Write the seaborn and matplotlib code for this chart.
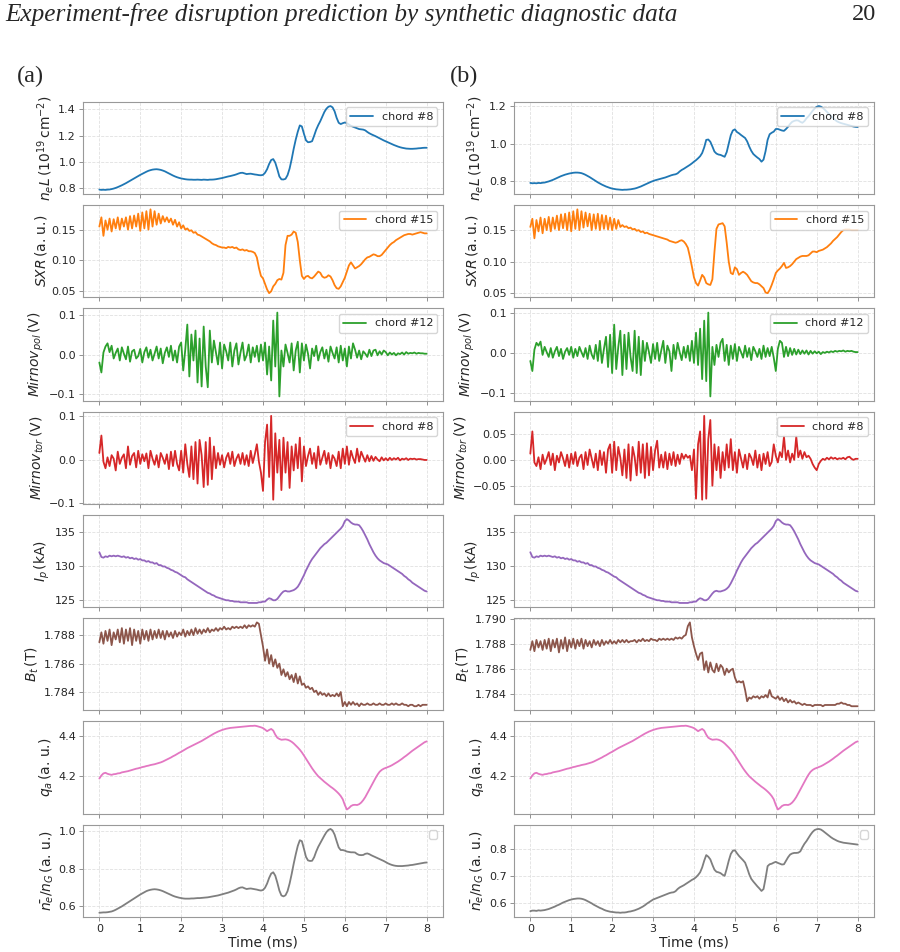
import numpy as np
import matplotlib
matplotlib.use("Agg")
import matplotlib.pyplot as plt
import seaborn as sns

# time base, 0.05 ms sampling
time_ms = np.linspace(0, 8, 161)

# ---- (a) ----
nel_a = [0.790,0.788,0.789,0.788,0.790,0.791,0.794,0.798,0.803,0.809,0.816,0.823,0.831,0.839,0.848,0.857,0.866,0.875,0.884,0.893,
         0.902,0.910,0.918,0.926,0.933,0.938,0.942,0.944,0.945,0.943,0.940,0.935,0.929,0.921,0.913,0.905,0.897,0.890,0.884,0.879,
         0.875,0.872,0.869,0.867,0.866,0.866,0.865,0.865,0.866,0.865,0.864,0.866,0.865,0.864,0.866,0.866,0.867,0.869,0.872,0.875,
         0.878,0.882,0.886,0.890,0.893,0.897,0.901,0.906,0.912,0.917,0.918,0.913,0.908,0.910,0.911,0.908,0.905,0.903,0.900,0.899,
         0.902,0.918,0.945,0.985,1.015,1.022,0.995,0.945,0.890,0.868,0.867,0.872,0.900,0.950,1.020,1.100,1.170,1.230,1.278,1.270,
         1.215,1.165,1.150,1.152,1.158,1.200,1.245,1.280,1.310,1.345,1.380,1.405,1.420,1.425,1.415,1.385,1.335,1.298,1.288,1.295,
         1.300,1.295,1.285,1.275,1.268,1.262,1.256,1.250,1.248,1.246,1.240,1.228,1.218,1.210,1.203,1.196,1.188,1.180,1.172,1.164,
         1.157,1.150,1.143,1.136,1.129,1.123,1.117,1.112,1.108,1.105,1.102,1.101,1.100,1.100,1.101,1.102,1.104,1.105,1.107,1.108,
         1.108]
sxr_a = [0.155,0.170,0.140,0.165,0.150,0.168,0.147,0.167,0.152,0.170,0.150,0.168,0.155,0.170,0.150,0.172,0.152,0.173,0.155,0.176,
         0.148,0.178,0.152,0.180,0.150,0.183,0.155,0.180,0.158,0.176,0.160,0.172,0.163,0.170,0.162,0.168,0.158,0.166,0.155,0.162,
         0.152,0.157,0.150,0.152,0.148,0.149,0.145,0.146,0.142,0.141,0.139,0.137,0.135,0.133,0.131,0.128,0.126,0.125,0.123,0.122,
         0.121,0.121,0.120,0.122,0.121,0.122,0.120,0.121,0.118,0.117,0.118,0.116,0.117,0.115,0.115,0.114,0.112,0.105,0.088,0.075,
         0.071,0.062,0.053,0.047,0.050,0.058,0.062,0.068,0.070,0.069,0.080,0.125,0.140,0.140,0.142,0.147,0.145,0.130,0.100,0.075,
         0.070,0.074,0.075,0.072,0.071,0.074,0.078,0.082,0.080,0.074,0.072,0.073,0.076,0.074,0.068,0.060,0.055,0.054,0.058,0.065,
         0.072,0.082,0.092,0.097,0.092,0.087,0.089,0.091,0.094,0.098,0.102,0.105,0.106,0.108,0.110,0.109,0.107,0.107,0.109,0.113,
         0.117,0.121,0.125,0.128,0.130,0.133,0.135,0.137,0.139,0.141,0.142,0.143,0.143,0.142,0.143,0.144,0.145,0.146,0.145,0.144,
         0.144]
mirpol_a = [-0.020,-0.045,0.005,0.020,0.028,0.006,0.022,-0.010,0.004,0.015,-0.015,0.018,0.002,-0.012,0.020,-0.018,0.008,0.012,-0.010,-0.004,
            0.014,-0.020,0.006,0.018,-0.008,0.012,-0.015,0.002,0.020,-0.010,0.015,-0.022,0.004,0.018,-0.006,0.022,-0.015,0.010,-0.020,0.020,
            0.030,-0.040,0.012,0.075,-0.055,0.050,-0.015,0.060,-0.070,0.040,-0.080,0.070,-0.030,-0.082,0.060,-0.020,0.035,0.005,-0.025,0.030,
            -0.035,0.025,0.008,-0.015,0.030,-0.030,0.010,0.028,-0.025,0.005,0.030,-0.015,-0.002,0.025,-0.020,0.018,-0.006,0.022,-0.018,0.025,
            -0.015,0.030,-0.050,0.020,-0.065,0.085,-0.030,0.105,-0.105,0.010,-0.030,0.025,0.004,-0.020,0.028,-0.040,0.010,0.032,-0.045,0.028,
            -0.015,0.025,0.002,-0.035,0.015,-0.004,0.022,-0.015,0.006,0.018,-0.010,0.012,-0.018,0.020,0.004,-0.010,0.018,-0.020,0.022,-0.015,
            0.015,-0.030,0.020,-0.010,0.028,0.012,-0.008,0.010,-0.012,0.008,0.002,-0.006,0.012,-0.004,0.010,0.012,-0.002,0.008,0.000,0.010,
            0.006,-0.002,0.005,0.000,0.004,-0.002,0.003,0.001,0.005,0.000,0.006,0.002,0.004,0.003,0.005,0.002,0.004,0.003,0.003,0.002,
            0.002]
mirtor_a = [0.015,0.055,-0.005,-0.020,0.005,-0.015,0.010,0.002,-0.025,0.018,-0.010,0.004,0.012,-0.020,0.030,-0.012,0.008,0.015,-0.018,0.020,
            -0.010,0.012,-0.004,0.014,-0.020,0.020,0.002,-0.012,0.010,-0.018,0.015,0.004,-0.010,0.012,-0.022,0.018,-0.015,0.020,-0.010,-0.025,
            0.020,-0.030,0.035,-0.010,-0.040,0.030,-0.045,0.040,-0.055,0.045,0.010,-0.063,0.040,-0.058,0.050,-0.045,0.030,-0.020,0.015,-0.012,
            0.010,-0.018,0.004,0.015,-0.010,0.018,-0.015,0.002,0.012,-0.010,0.015,-0.012,0.010,-0.015,0.020,-0.008,0.012,0.035,-0.005,-0.030,
            -0.072,0.040,0.080,-0.040,0.100,-0.092,0.060,-0.030,0.045,-0.070,0.050,-0.030,0.040,-0.065,0.030,-0.025,0.035,-0.020,0.050,-0.050,
            0.030,-0.015,0.008,0.025,-0.010,0.015,-0.020,0.030,-0.012,0.004,0.020,-0.010,0.015,-0.020,0.010,0.002,-0.015,0.018,-0.020,0.025,
            -0.010,0.030,-0.012,0.020,0.004,-0.008,0.025,-0.005,0.018,0.006,-0.005,0.010,-0.004,0.008,-0.003,0.006,0.000,-0.004,0.005,-0.002,
            0.003,-0.002,0.004,-0.001,0.003,0.000,0.004,-0.002,0.002,0.000,0.003,-0.001,0.002,0.001,0.002,0.000,0.001,0.001,0.000,-0.001,
            -0.001]
bt_a = [1.7875,1.7882,1.7874,1.7883,1.7876,1.7884,1.7873,1.7882,1.7877,1.7884,1.7875,1.7885,1.7874,1.7884,1.7876,1.7885,1.7873,1.7884,1.7876,1.7883,
        1.7874,1.7884,1.7877,1.7883,1.7876,1.7884,1.7877,1.7883,1.7878,1.7884,1.7878,1.7883,1.7877,1.7883,1.7879,1.7882,1.7878,1.7883,1.7879,1.7882,
        1.7880,1.7884,1.7879,1.7883,1.7880,1.7884,1.7880,1.7885,1.7881,1.7884,1.7881,1.7884,1.7882,1.7885,1.7882,1.7884,1.7883,1.7885,1.7883,1.7885,
        1.7884,1.7886,1.7884,1.7885,1.7884,1.7886,1.7885,1.7886,1.7885,1.7886,1.7885,1.7887,1.7885,1.7887,1.7886,1.7887,1.7886,1.7889,1.7888,1.7880,
        1.7872,1.7862,1.7870,1.7860,1.7866,1.7858,1.7863,1.7857,1.7860,1.7852,1.7856,1.7851,1.7854,1.7849,1.7852,1.7847,1.7853,1.7846,1.7851,1.7845,
        1.7846,1.7843,1.7844,1.7842,1.7843,1.7840,1.7841,1.7838,1.7840,1.7838,1.7839,1.7837,1.7839,1.7837,1.7838,1.7837,1.7839,1.7837,1.7840,1.7830,
        1.7833,1.7830,1.7833,1.7831,1.7833,1.7831,1.7832,1.7830,1.7832,1.7831,1.7831,1.7832,1.7831,1.7831,1.7832,1.7831,1.7831,1.7832,1.7831,1.7831,
        1.7832,1.7831,1.7831,1.7832,1.7831,1.7832,1.7831,1.7831,1.7832,1.7831,1.7831,1.7830,1.7831,1.7831,1.7830,1.7830,1.7831,1.7830,1.7831,1.7831,
        1.7831]
ngw_a = [0.565,0.566,0.567,0.567,0.568,0.570,0.572,0.576,0.581,0.587,0.593,0.599,0.606,0.613,0.620,0.627,0.634,0.641,0.648,0.655,
         0.662,0.668,0.674,0.680,0.684,0.687,0.689,0.690,0.689,0.687,0.684,0.680,0.675,0.670,0.665,0.660,0.655,0.651,0.648,0.645,
         0.643,0.641,0.640,0.640,0.640,0.641,0.641,0.642,0.643,0.643,0.644,0.645,0.646,0.647,0.649,0.651,0.653,0.655,0.657,0.660,
         0.663,0.666,0.669,0.672,0.676,0.680,0.684,0.689,0.695,0.699,0.700,0.695,0.691,0.693,0.694,0.692,0.690,0.688,0.685,0.683,
         0.686,0.698,0.720,0.750,0.773,0.780,0.762,0.725,0.683,0.657,0.652,0.658,0.680,0.720,0.770,0.825,0.875,0.920,0.950,0.945,
         0.905,0.862,0.843,0.840,0.841,0.860,0.890,0.915,0.935,0.955,0.975,0.993,1.005,1.010,1.002,0.980,0.945,0.912,0.898,0.898,
         0.895,0.890,0.888,0.886,0.886,0.885,0.877,0.872,0.871,0.872,0.878,0.880,0.876,0.870,0.865,0.860,0.855,0.850,0.845,0.840,
         0.834,0.828,0.823,0.819,0.816,0.814,0.813,0.813,0.813,0.814,0.815,0.816,0.818,0.819,0.821,0.823,0.825,0.827,0.829,0.831,
         0.832]

# ---- shared by (a) and (b) ----
ip_ka = [132.0,131.3,131.2,131.4,131.3,131.5,131.4,131.5,131.4,131.5,131.4,131.3,131.4,131.2,131.3,131.1,131.2,131.0,131.1,130.9,
         131.0,130.8,130.8,130.6,130.7,130.5,130.5,130.3,130.4,130.1,130.1,129.9,129.9,129.7,129.6,129.4,129.3,129.1,129.0,128.8,
         128.6,128.4,128.3,128.0,127.8,127.6,127.4,127.2,127.0,126.8,126.6,126.4,126.2,126.0,125.9,125.7,125.6,125.4,125.3,125.2,
         125.1,125.0,124.9,124.9,124.8,124.8,124.7,124.7,124.7,124.6,124.6,124.6,124.6,124.5,124.5,124.5,124.5,124.5,124.6,124.6,
         124.7,124.7,125.0,125.2,125.1,124.9,124.9,125.1,125.5,125.9,126.2,126.3,126.2,126.2,126.3,126.4,126.6,126.9,127.4,128.0,
         128.6,129.3,129.9,130.5,131.0,131.4,131.8,132.2,132.6,132.9,133.2,133.4,133.7,134.0,134.3,134.6,134.9,135.2,135.5,135.9,
         136.6,136.9,136.7,136.4,136.2,136.1,136.1,136.0,135.6,135.1,134.5,133.9,133.2,132.6,132.0,131.5,131.1,130.8,130.6,130.4,
         130.3,130.2,130.0,129.8,129.6,129.4,129.2,129.0,128.8,128.5,128.3,128.0,127.8,127.5,127.3,127.1,126.9,126.7,126.5,126.3,
         126.2]
qa = [4.190,4.205,4.215,4.218,4.213,4.210,4.208,4.211,4.212,4.215,4.216,4.220,4.222,4.224,4.226,4.229,4.232,4.235,4.238,4.240,
      4.243,4.246,4.248,4.251,4.253,4.256,4.258,4.260,4.263,4.266,4.269,4.273,4.278,4.283,4.288,4.293,4.299,4.304,4.310,4.316,
      4.321,4.327,4.333,4.339,4.344,4.349,4.354,4.359,4.364,4.369,4.374,4.380,4.386,4.392,4.398,4.404,4.410,4.415,4.420,4.424,
      4.428,4.431,4.434,4.436,4.438,4.439,4.440,4.441,4.442,4.443,4.444,4.445,4.446,4.447,4.448,4.448,4.449,4.447,4.444,4.441,
      4.437,4.430,4.422,4.428,4.433,4.425,4.405,4.390,4.384,4.380,4.381,4.382,4.380,4.376,4.370,4.362,4.352,4.342,4.331,4.318,
      4.303,4.287,4.270,4.255,4.240,4.226,4.213,4.201,4.192,4.183,4.174,4.166,4.158,4.150,4.143,4.135,4.126,4.116,4.104,4.088,
      4.060,4.038,4.045,4.055,4.060,4.061,4.060,4.064,4.072,4.084,4.099,4.117,4.136,4.155,4.174,4.192,4.209,4.223,4.232,4.238,
      4.242,4.246,4.250,4.255,4.261,4.267,4.273,4.280,4.287,4.295,4.302,4.310,4.318,4.326,4.333,4.340,4.347,4.354,4.361,4.368,
      4.372]

# ---- (b) ----
nel_b = [0.791,0.789,0.790,0.789,0.791,0.790,0.792,0.793,0.796,0.799,0.803,0.807,0.812,0.817,0.822,0.827,0.831,0.835,0.838,0.841,
         0.843,0.845,0.846,0.846,0.845,0.843,0.839,0.834,0.828,0.822,0.815,0.808,0.801,0.794,0.788,0.782,0.777,0.772,0.768,0.764,
         0.761,0.759,0.757,0.756,0.755,0.754,0.755,0.755,0.756,0.757,0.759,0.761,0.764,0.768,0.772,0.777,0.782,0.787,0.792,0.797,
         0.801,0.805,0.808,0.811,0.814,0.817,0.820,0.824,0.828,0.832,0.835,0.837,0.842,0.852,0.860,0.866,0.873,0.880,0.887,0.895,
         0.904,0.912,0.922,0.933,0.950,0.980,1.020,1.022,1.010,0.985,0.958,0.947,0.942,0.940,0.935,0.930,0.955,1.000,1.045,1.070,
         1.076,1.062,1.055,1.046,1.038,1.030,1.012,0.985,0.962,0.945,0.935,0.926,0.918,0.904,0.915,0.960,1.020,1.050,1.058,1.064,
         1.078,1.078,1.074,1.070,1.068,1.078,1.090,1.105,1.116,1.121,1.124,1.123,1.116,1.111,1.120,1.135,1.146,1.160,1.175,1.187,
         1.196,1.200,1.197,1.190,1.180,1.169,1.158,1.147,1.136,1.126,1.118,1.113,1.109,1.106,1.103,1.100,1.097,1.094,1.091,1.089,
         1.088]
sxr_b = [0.155,0.168,0.137,0.166,0.148,0.170,0.145,0.168,0.150,0.171,0.148,0.170,0.152,0.173,0.150,0.175,0.153,0.176,0.150,0.178,
         0.148,0.180,0.152,0.183,0.150,0.180,0.154,0.178,0.156,0.176,0.150,0.175,0.152,0.176,0.150,0.174,0.152,0.173,0.151,0.170,
         0.150,0.168,0.152,0.166,0.155,0.158,0.155,0.156,0.153,0.154,0.151,0.152,0.149,0.150,0.147,0.148,0.145,0.146,0.144,0.143,
         0.142,0.141,0.140,0.139,0.138,0.137,0.136,0.135,0.133,0.132,0.131,0.130,0.131,0.133,0.134,0.132,0.128,0.122,0.108,0.092,
         0.075,0.066,0.062,0.070,0.079,0.075,0.066,0.064,0.063,0.072,0.115,0.152,0.159,0.160,0.161,0.156,0.130,0.100,0.082,0.080,
         0.091,0.088,0.079,0.082,0.084,0.082,0.079,0.074,0.069,0.067,0.066,0.066,0.064,0.061,0.058,0.051,0.050,0.055,0.063,0.072,
         0.082,0.086,0.089,0.093,0.098,0.090,0.091,0.093,0.096,0.100,0.104,0.106,0.108,0.109,0.109,0.109,0.110,0.113,0.116,0.116,
         0.115,0.117,0.118,0.119,0.121,0.123,0.126,0.129,0.133,0.136,0.139,0.143,0.147,0.150,0.151,0.151,0.151,0.150,0.150,0.150,
         0.150]
mirpol_b = [-0.020,-0.045,0.008,0.025,0.018,0.028,-0.005,0.015,0.002,-0.010,0.012,-0.012,0.004,0.015,-0.008,0.010,-0.015,0.003,0.012,-0.005,
            0.015,-0.012,0.010,-0.008,0.015,0.002,-0.010,0.012,-0.015,0.018,-0.004,-0.015,0.020,-0.020,0.030,-0.025,0.010,0.040,-0.035,0.045,
            -0.050,0.070,-0.040,0.015,0.055,-0.055,0.045,-0.040,0.050,-0.010,-0.045,0.055,-0.050,0.040,-0.055,0.030,-0.020,0.025,0.002,-0.025,
            0.022,-0.015,0.025,-0.020,0.006,0.030,-0.025,0.018,0.004,-0.045,0.020,-0.015,0.025,0.002,-0.018,0.015,-0.012,0.018,-0.020,0.030,
            -0.025,0.050,-0.030,0.060,-0.065,0.080,-0.070,0.100,-0.108,0.015,-0.030,0.020,-0.010,0.025,0.035,-0.020,0.020,-0.030,0.018,-0.015,
            0.022,-0.020,0.015,0.002,-0.012,0.018,-0.010,0.012,-0.018,0.015,0.004,-0.010,0.010,-0.015,0.018,-0.010,0.012,-0.008,0.015,-0.012,
            -0.045,0.010,0.030,0.025,-0.010,0.015,-0.008,0.012,-0.005,0.010,-0.004,0.008,-0.003,0.006,-0.002,0.006,-0.004,0.005,-0.002,0.004,
            -0.001,0.003,-0.003,0.002,0.000,0.003,0.001,0.004,0.002,0.005,0.003,0.005,0.004,0.006,0.003,0.005,0.004,0.005,0.003,0.002,
            0.002]
mirtor_b = [0.012,0.055,-0.005,-0.012,0.005,-0.018,0.010,-0.008,0.002,0.015,-0.010,0.012,-0.020,0.008,-0.005,0.015,0.003,-0.012,0.010,-0.015,
            0.012,-0.008,0.015,-0.012,0.004,0.010,-0.018,0.015,-0.010,0.020,0.002,-0.015,0.012,-0.020,0.018,-0.010,0.015,-0.025,0.020,0.030,
            -0.025,0.035,-0.020,0.025,0.004,-0.030,0.020,-0.035,0.030,-0.040,0.025,0.005,-0.030,0.035,-0.025,0.030,-0.035,0.032,-0.030,0.025,
            -0.020,0.018,0.037,-0.015,0.010,-0.015,0.015,-0.018,0.012,-0.010,0.015,-0.012,0.010,-0.008,0.012,0.002,0.010,0.004,0.008,-0.020,
            0.020,-0.075,0.030,0.055,-0.077,0.085,-0.075,0.040,0.077,-0.050,0.030,-0.020,0.025,-0.035,0.015,-0.020,0.030,-0.015,0.040,-0.020,
            0.015,-0.025,0.020,0.002,-0.015,0.010,-0.018,0.012,0.004,-0.010,0.018,-0.015,0.010,-0.020,0.012,-0.008,0.015,-0.012,-0.004,0.030,
            0.008,-0.005,0.015,0.005,0.045,0.000,0.018,-0.005,0.012,0.000,0.045,0.005,0.018,0.002,0.015,0.005,0.008,0.002,-0.008,-0.015,
            -0.020,-0.008,-0.002,0.002,0.000,0.004,0.001,0.005,0.002,0.004,0.001,0.003,0.002,0.004,0.001,0.005,0.006,0.002,0.000,0.002,
            0.002]
bt_b = [1.7875,1.7882,1.7874,1.7883,1.7877,1.7882,1.7875,1.7883,1.7876,1.7884,1.7874,1.7883,1.7877,1.7884,1.7873,1.7883,1.7876,1.7885,1.7874,1.7883,
        1.7877,1.7884,1.7876,1.7883,1.7878,1.7884,1.7876,1.7883,1.7878,1.7882,1.7877,1.7883,1.7879,1.7882,1.7878,1.7883,1.7879,1.7882,1.7880,1.7883,
        1.7880,1.7882,1.7880,1.7883,1.7881,1.7883,1.7881,1.7883,1.7881,1.7882,1.7882,1.7883,1.7881,1.7883,1.7882,1.7884,1.7882,1.7883,1.7882,1.7884,
        1.7883,1.7883,1.7882,1.7884,1.7883,1.7884,1.7883,1.7884,1.7883,1.7884,1.7883,1.7885,1.7884,1.7885,1.7884,1.7886,1.7887,1.7894,1.7897,1.7885,
        1.7878,1.7872,1.7867,1.7872,1.7873,1.7859,1.7866,1.7857,1.7865,1.7859,1.7857,1.7864,1.7858,1.7863,1.7861,1.7855,1.7860,1.7857,1.7859,1.7860,
        1.7853,1.7849,1.7850,1.7849,1.7850,1.7843,1.7834,1.7837,1.7836,1.7838,1.7837,1.7838,1.7836,1.7838,1.7837,1.7839,1.7837,1.7843,1.7838,1.7837,
        1.7836,1.7838,1.7835,1.7837,1.7834,1.7836,1.7833,1.7835,1.7833,1.7834,1.7832,1.7833,1.7832,1.7831,1.7832,1.7831,1.7831,1.7831,1.7830,1.7831,
        1.7831,1.7831,1.7831,1.7830,1.7831,1.7831,1.7831,1.7831,1.7831,1.7831,1.7832,1.7832,1.7833,1.7832,1.7832,1.7831,1.7831,1.7830,1.7830,1.7830,
        1.7830]
ngw_b = [0.568,0.570,0.570,0.569,0.571,0.570,0.571,0.572,0.574,0.576,0.579,0.582,0.585,0.589,0.592,0.596,0.600,0.603,0.606,0.609,
         0.611,0.613,0.614,0.615,0.615,0.614,0.612,0.609,0.605,0.601,0.597,0.592,0.588,0.584,0.580,0.577,0.573,0.570,0.568,0.566,
         0.565,0.564,0.563,0.563,0.562,0.563,0.563,0.564,0.566,0.567,0.569,0.571,0.574,0.577,0.581,0.585,0.590,0.596,0.601,0.606,
         0.611,0.614,0.617,0.620,0.623,0.626,0.629,0.632,0.635,0.637,0.638,0.642,0.650,0.656,0.660,0.664,0.669,0.674,0.679,0.684,
         0.688,0.694,0.702,0.712,0.730,0.755,0.776,0.770,0.760,0.740,0.722,0.714,0.712,0.709,0.703,0.699,0.725,0.755,0.780,0.792,
         0.794,0.783,0.773,0.765,0.757,0.748,0.728,0.705,0.688,0.678,0.669,0.660,0.652,0.643,0.650,0.690,0.735,0.742,0.744,0.748,
         0.751,0.747,0.744,0.741,0.742,0.755,0.768,0.778,0.782,0.784,0.784,0.785,0.790,0.805,0.818,0.828,0.840,0.852,0.862,0.869,
         0.872,0.873,0.871,0.866,0.860,0.854,0.848,0.842,0.837,0.833,0.829,0.826,0.824,0.822,0.821,0.820,0.819,0.818,0.817,0.816,
         0.815]

ylabels = [r'$n_eL\,(10^{19}\,\mathrm{cm}^{-2})$', r'$SXR\,$(a. u.)', r'$Mirnov_{pol}\,$(V)',
           r'$Mirnov_{tor}\,$(V)', r'$I_p\,$(kA)', r'$B_t\,$(T)', r'$q_a\,$(a. u.)', r'$\bar{n_e}/n_G\,$(a. u.)']
legend_labels = ['chord #8', 'chord #15', 'chord #12', 'chord #8', None, None, None, '']
colors = sns.color_palette('tab10', 8)

col_a = [nel_a, sxr_a, mirpol_a, mirtor_a, ip_ka, bt_a, qa, ngw_a]
col_b = [nel_b, sxr_b, mirpol_b, mirtor_b, ip_ka, bt_b, qa, ngw_b]

sns.set_style('whitegrid', {'axes.edgecolor': '0.6', 'grid.color': '0.88', 'grid.linestyle': '--',
                            'xtick.bottom': True, 'ytick.left': True,
                            'xtick.color': '0.15', 'ytick.color': '0.15'})

fig, axes = plt.subplots(8, 2, figsize=(9, 9.52), dpi=100, sharex='col')
fig.subplots_adjust(left=0.0922, right=0.9711, top=0.893, bottom=0.0368, hspace=0.12, wspace=0.197)

for c, column in enumerate([col_a, col_b]):
    for r, vals in enumerate(column):
        ax = axes[r, c]
        sns.lineplot(x=time_ms, y=vals, ax=ax, color=colors[r], lw=1.3)
        ax.set_ylabel(ylabels[r], fontsize=10, labelpad=2)
        ax.tick_params(labelsize=8, length=3, width=0.6, color='0.5', pad=2)
        ax.grid(True, lw=0.6)
        for s in ax.spines.values():
            s.set_linewidth(0.8)
        lab = legend_labels[r]
        if lab:
            ax.lines[0].set_label(lab)
            ax.legend(loc='upper right', fontsize=8, framealpha=0.8)
        elif lab == '':
            ax.legend(handles=[], loc='upper right', fontsize=8, framealpha=0.8)
    axes[-1, c].set_xlabel('Time (ms)', fontsize=10, labelpad=1)
    axes[-1, c].set_xticks(range(9))

fig.text(0.006, 0.985, 'Experiment-free disruption prediction by synthetic diagnostic data',
         fontsize=18.2, fontstyle='italic', family='Liberation Serif', ha='left', va='center')
fig.text(0.974, 0.985, '20', fontsize=17.5, family='Liberation Serif', ha='right', va='center')
fig.text(0.034, 0.920, '(a)', fontsize=17.5, family='Liberation Serif', ha='center', va='center')
fig.text(0.516, 0.920, '(b)', fontsize=17.5, family='Liberation Serif', ha='center', va='center')

fig.savefig('out.png', dpi=100)
